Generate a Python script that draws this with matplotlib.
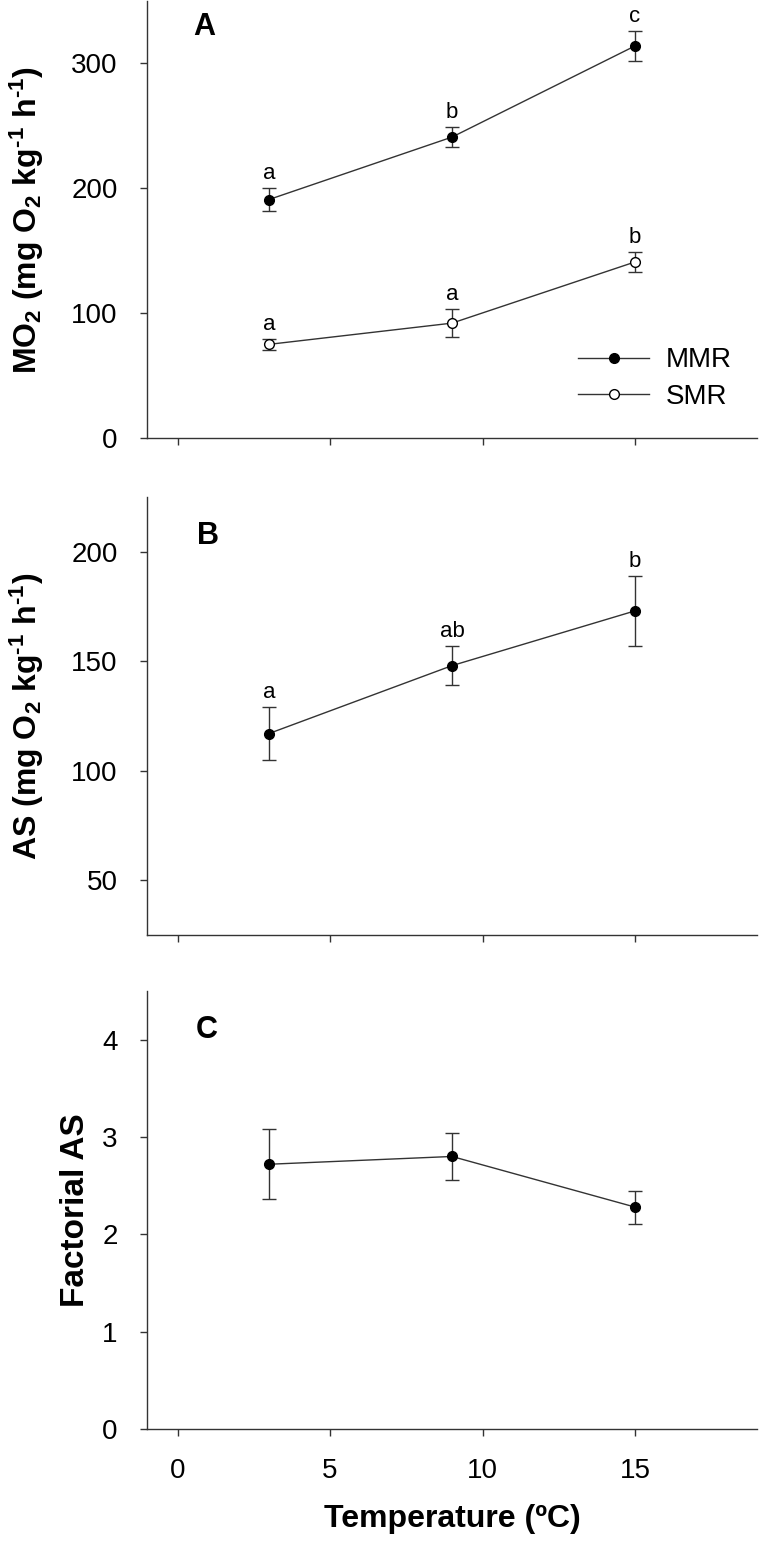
import matplotlib
matplotlib.use("Agg")
import matplotlib.pyplot as plt
from matplotlib.lines import Line2D

plt.rcParams["font.family"] = ["Liberation Sans", "DejaVu Sans"]
plt.rcParams["mathtext.default"] = "regular"

# ── Data ─────────────────────────────────────────────────────
temps = [3, 9, 15]

mmr = [191, 241, 314]
mmr_err = [9, 8, 12]
mmr_letters = ["a", "b", "c"]

smr = [75, 92, 141]
smr_err = [4.5, 11, 8]
smr_letters = ["a", "a", "b"]

as_vals = [117, 148, 173]
as_err = [12, 9, 16]
as_letters = ["a", "ab", "b"]

fas = [2.72, 2.80, 2.28]
fas_err = [0.36, 0.24, 0.17]

x_ticks = [0, 5, 10, 15]

LINE = "#333333"
W, H = 760, 1543

fig = plt.figure(figsize=(W / 100, H / 100), dpi=100)


def make_ax(top, bottom):
    left, right = 147, 757
    ax = fig.add_axes([left / W, 1 - bottom / H, (right - left) / W, (bottom - top) / H])
    for s in ["top", "right"]:
        ax.spines[s].set_visible(False)
    for s in ["left", "bottom"]:
        ax.spines[s].set_color(LINE)
        ax.spines[s].set_linewidth(1.0)
    ax.tick_params(direction="out", length=5, width=1, color=LINE,
                   labelsize=20, pad=16)
    ax.set_xlim(-1, 19)
    ax.set_xticks(x_ticks)
    return ax


def series(ax, y, err, face):
    ax.errorbar(temps, y, yerr=err, color=LINE, lw=1, ecolor=LINE,
                elinewidth=1, capsize=5, capthick=1, marker="o", ms=7,
                mfc=face, mec="black", mew=1, zorder=3)


def letters(ax, y, err, labels):
    for x, v, e, t in zip(temps, y, err, labels):
        ax.annotate(t, (x, v + e), xytext=(0, 3), textcoords="offset points",
                    ha="center", va="bottom", fontsize=16)


# ── Panel A ──────────────────────────────────────────────────
ax = make_ax(1, 438)
series(ax, mmr, mmr_err, "black")
series(ax, smr, smr_err, "white")
letters(ax, mmr, mmr_err, mmr_letters)
letters(ax, smr, smr_err, smr_letters)
ax.set_ylim(0, 350)
ax.set_yticks([0, 100, 200, 300])
ax.set_xticklabels([])
ax.set_ylabel("MO$_2$ (mg O$_2$ kg$^{‐1}$ h$^{‐1}$)", fontsize=23, fontweight="bold")
ax.yaxis.set_label_coords(-0.165, 0.5)
ax.text(0.075, 0.975, "A", transform=ax.transAxes, fontsize=22,
        fontweight="bold", va="top", ha="left")
handles = [
    Line2D([], [], color=LINE, lw=1, marker="o", ms=7, mfc="black", mec="black"),
    Line2D([], [], color=LINE, lw=1, marker="o", ms=7, mfc="white", mec="black"),
]
ax.legend(handles, ["MMR", "SMR"], loc="center left",
          bbox_to_anchor=(0.684, 0.136), frameon=False, fontsize=20,
          borderpad=0, handlelength=2.55, handletextpad=0.6,
          labelspacing=0.38)

# ── Panel B ──────────────────────────────────────────────────
ax = make_ax(497, 935)
series(ax, as_vals, as_err, "black")
letters(ax, as_vals, as_err, as_letters)
ax.set_ylim(25, 225)
ax.set_yticks([50, 100, 150, 200])
ax.set_xticklabels([])
ax.set_ylabel("AS (mg O$_2$ kg$^{‐1}$ h$^{‐1}$)", fontsize=23, fontweight="bold")
ax.yaxis.set_label_coords(-0.165, 0.5)
ax.text(0.082, 0.945, "B", transform=ax.transAxes, fontsize=22,
        fontweight="bold", va="top", ha="left")

# ── Panel C ──────────────────────────────────────────────────
ax = make_ax(991, 1429)
series(ax, fas, fas_err, "black")
ax.set_ylim(0, 4.5)
ax.set_yticks([0, 1, 2, 3, 4])
ax.set_ylabel("Factorial AS", fontsize=24, fontweight="bold")
ax.yaxis.set_label_coords(-0.092, 0.5)
ax.set_xlabel("Temperature (ºC)", fontsize=23, fontweight="bold", labelpad=14)
ax.text(0.08, 0.945, "C", transform=ax.transAxes, fontsize=22,
        fontweight="bold", va="top", ha="left")

fig.savefig("out.png", dpi=100)
